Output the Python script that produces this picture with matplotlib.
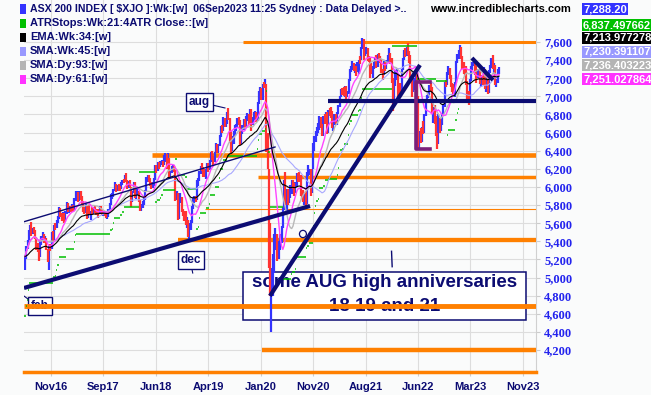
import matplotlib
matplotlib.use('Agg')
import matplotlib.pyplot as plt
from matplotlib.patches import Rectangle, Ellipse
import numpy as np
import pandas as pd

# ---------------- data (weekly, Jul 2016 .. Sep 2023) ----------------
prev_close0 = 5114
closes = [
 # 2016
 5233,5337,5400,5500,5562, 5497,5531,5525,5441, 5310,5298,5237,5385,5436, 5467,5407,5431,5317,
 5184,5334,5326,5487, 5424,5569,5561,5620,5665,
 # 2017
 5761,5688,5653,5696, 5621,5716,5814,5739, 5765,5748,5787,5738,5864, 5934,5942,5856,5924,
 5876,5838,5744,5735, 5788,5667,5775,5712,5721, 5703,5765,5722,5720, 5719,5700,5779,5734,
 5714,5720,5705,5681,5682, 5740,5810,5900,5904, 5962,6025,5958,6000, 5995,5987,6042,6069,6065,
 # 2018
 6122,6070,6005,6050, 6027,5820,5944,6041, 5895,5934,5949,5844,5759, 5788,5815,5870,5961,
 6095,6103,6087,6033, 6012,6033,6082,6226,6194, 6250,6232,6256,6282, 6241,6337,6340,6247,6319,
 6127,6153,6207,6208, 6186,5871,5925,5665, 5838,5897,5741,5705,5668, 5619,5620,5468,5579,
 # 2019
 5605,5776,5864,5870, 5864,6062,6067,6166, 6217,6205,6167,6130,6180, 6242,6195,6285,6380,
 6323,6290,6375,6456,6396, 6453,6553,6652,6618, 6752,6686,6700,6794, 6780,6563,6405,6545,6604,
 6647,6687,6730,6720, 6486,6608,6644,6732, 6669,6757,6793,6715,6846, 6685,6749,6816,6822,
 # 2020
 6733,6929,7041,7090,7017, 7134,7130,7139,6441, 6216,5539,4817,4842, 5068,5387,5487,5242,
 5245,5391,5405,5550,5755, 6037,5847,5942,5818, 5919,5955,6035,6024,5928, 6023,6124,6107,6074,
 5925,5908,5849,5904, 5815,6156,6160,6178,5927, 6190,6405,6539,6601, 6635,6642,6756,6664,
 # 2021
 6587,6758,6716,6800,6607, 6841,6804,6794,6673, 6710,6767,6708,6824, 6885,6995,7063,7060,7025,
 7096,7014,7030,7180, 7295,7312,7369,7308, 7308,7272,7348,7393,7392, 7523,7628,7460,7488,
 7522,7406,7403,7342, 7276,7320,7362,7415,7324, 7457,7443,7396,7279, 7241,7354,7305,7387,7444,
 # 2022
 7453,7393,7173,6988, 7120,7217,7221,7049, 7111,7064,7295,7406, 7493,7478,7523,7473,7435,
 7206,7075,7146,7183, 7238,7021,6475,6578, 6547,6640,6605,6791,6945, 6995,7032,7115,7104,
 6829,6855,6739,6574,6474, 6762,6642,6677,6786, 6893,7148,7136,7259, 7301,7213,7152,7107,7039,
 # 2023
 7152,7386,7452,7494, 7558,7433,7347,7307, 7283,7144,6995,6956,7178, 7325,7362,7366,7309,
 7225,7256,7279,7154, 7217,7143,7292,7099,7203, 7043,7283,7325,7403, 7325,7340,7148,7158,
 7279,7288,
]
highs = [
 5250,5350,5420,5520,5575, 5611,5550,5560,5530, 5450,5380,5300,5400,5460, 5500,5480,5460,5440,
 5320,5350,5370,5500, 5510,5580,5600,5640,5680,
 5780,5770,5710,5720, 5710,5730,5830,5820, 5790,5790,5810,5800,5880, 5950,5960,5940,5950,
 5956,5900,5850,5780, 5810,5790,5790,5800,5740, 5780,5775,5790,5760, 5750,5760,5790,5790,
 5760,5740,5740,5720,5700, 5760,5820,5920,5930, 5980,6050,6030,6020, 6030,6010,6060,6080,6090,
 6130,6150,6080,6070, 6080,6000,5960,6050, 6060,5960,5980,5960,5860, 5810,5840,5890,5970,
 6110,6130,6130,6100, 6050,6060,6100,6240,6240, 6270,6270,6290,6300, 6290,6350,6370,6360,6374,
 6320,6180,6230,6240, 6230,6190,5960,5930, 5860,5930,5890,5760,5730, 5740,5670,5640,5600,
 5640,5790,5880,5900, 5900,6080,6100,6180, 6230,6260,6220,6200,6200, 6260,6260,6300,6390,
 6400,6340,6390,6480,6470, 6470,6570,6670,6680, 6770,6760,6730,6830, 6875,6760,6620,6560,6620,
 6680,6700,6760,6770, 6740,6620,6680,6750, 6750,6780,6820,6800,6860, 6860,6770,6830,6840,
 6830,6940,7060,7100,7090, 7140,7160,7197,7140, 6600,6200,5600,5100, 5260,5480,5550,5480,
 5400,5400,5480,5570,5780, 6080,6170,5980,5980, 5960,6020,6080,6080,6040, 6060,6150,6150,6160,
 6130,5970,5970,5920, 5950,6170,6240,6200,6200, 6200,6480,6560,6620, 6660,6710,6780,6770,
 6700,6780,6800,6830,6830, 6850,6870,6880,6840, 6800,6800,6800,6830, 6900,7000,7080,7090,7100,
 7110,7110,7060,7190, 7300,7340,7390,7370, 7360,7340,7380,7400,7450, 7540,7640,7630,7520,
 7540,7530,7450,7420, 7370,7340,7380,7430,7460, 7470,7480,7450,7410, 7300,7390,7380,7400,7460,
 7530,7480,7420,7200, 7140,7290,7300,7250, 7130,7150,7300,7420, 7510,7530,7540,7593,7500,
 7460,7230,7170,7200, 7280,7260,7000,6620, 6650,6660,6730,6800,6950, 7010,7060,7130,7150,
 7100,6880,6900,6780,6600, 6800,6760,6720,6820, 6920,7160,7180,7270, 7330,7310,7240,7150,7140,
 7160,7390,7470,7510, 7570,7540,7450,7380, 7330,7330,7170,7060,7190, 7340,7380,7400,7380,
 7330,7300,7300,7290, 7240,7240,7320,7300,7220, 7230,7290,7350,7420, 7460,7370,7350,7190,
 7300,7320,
]
lows = [
 5085,5210,5320,5390,5470, 5460,5480,5490,5430, 5300,5285,5180,5230,5360, 5420,5380,5390,5300,
 5170,5080,5290,5320, 5400,5420,5520,5550,5600,
 5650,5670,5620,5640, 5600,5610,5700,5720, 5710,5720,5730,5720,5730, 5850,5900,5830,5850,
 5860,5810,5720,5700, 5710,5650,5660,5700,5640, 5690,5700,5710,5690, 5700,5660,5700,5720,
 5690,5680,5680,5660,5650, 5670,5730,5800,5870, 5890,5950,5940,5950, 5960,5950,5980,6020,6040,
 6050,6050,5980,5990, 6000,5780,5830,5930, 5880,5870,5910,5830,5740, 5740,5770,5800,5860,
 5960,6060,6060,6010, 5980,5990,6010,6080,6150, 6180,6200,6220,6240, 6220,6240,6280,6200,6240,
 6110,6100,6150,6180, 6160,5840,5860,5640, 5650,5820,5720,5680,5620, 5580,5550,5450,5410,
 5530,5600,5760,5820, 5830,5860,6010,6070, 6140,6180,6110,6110,6090, 6180,6170,6190,6280,
 6300,6240,6280,6370,6380, 6380,6450,6550,6600, 6620,6660,6660,6690, 6740,6480,6370,6400,6470,
 6560,6620,6660,6680, 6460,6470,6590,6630, 6640,6660,6730,6680,6710, 6620,6680,6740,6790,
 6720,6730,6920,7020,6960, 6960,7090,7100,6390, 6200,5100,4800,4402, 4800,5050,5300,5180,
 5230,5200,5300,5380,5550, 5750,5800,5740,5800, 5820,5880,5920,5980,5900, 5930,6000,6050,6060,
 5900,5870,5830,5800, 5790,5810,6120,6130,5900, 5930,6200,6400,6500, 6560,6600,6630,6650,
 6560,6560,6690,6700,6590, 6600,6780,6760,6650, 6620,6680,6690,6680, 6800,6880,6990,7020,7000,
 6990,6950,6990,7030, 7170,7270,7290,7280, 7260,7220,7270,7250,7360, 7400,7520,7400,7440,
 7470,7390,7380,7200, 7250,7200,7300,7350,7310, 7320,7390,7370,7260, 7180,7240,7280,7300,7380,
 7380,7360,7150,6840, 6960,7110,7180,6980, 6990,6990,7040,7290, 7400,7430,7450,7460,7370,
 7180,6990,7050,7070, 7150,7000,6433,6430, 6480,6500,6590,6600,6780, 6930,6980,7020,7050,
 6800,6710,6700,6560,6420, 6470,6600,6620,6680, 6780,6880,7100,7130, 7240,7190,7100,7050,7030,
 6990,7150,7370,7410, 7470,7410,7300,7250, 7230,7130,6930,6900,6950, 7170,7290,7330,7240,
 7150,7200,7200,7140, 7100,7120,7130,7080,7050, 7030,7040,7260,7310, 7300,7250,7130,7100,
 7150,7250,
]

tick_weeks = [20.6, 62.1, 103.5, 145.0, 186.5, 227.9, 269.4, 310.8, 352.2, 393.7]
tick_labels = ['Nov16', 'Sep17', 'Jun18', 'Apr19', 'Jan20', 'Nov20', 'Aug21', 'Jun22', 'Mar23', 'Nov23']
y_ticks = list(range(4200, 7601, 200))

legend_labels = ['ASX 200 INDEX [ \\$XJO ]:Wk:[w]  06Sep2023 11:25 Sydney : Data Delayed >..',
                 'ATRStops:Wk:21:4ATR Close::[w]', 'EMA:Wk:34:[w]', 'SMA:Wk:45:[w]',
                 'SMA:Dy:93:[w]', 'SMA:Dy:61:[w]']
value_labels = ['7,288.20', '6,837.497662', '7,213.977278', '7,230.391107', '7,236.403223', '7,251.027864']

# hand-drawn annotations (week index, index level)
orange_levels = [7600, 6353, 6110, 5757, 5415, 4686, 4200]
orange_starts = [172.5, 100.5, 184.3, 142.4, 121.0, -0.8, 187.5]
navy_low_x, navy_low_y = [-0.8, 225.5], [4885, 5790]
navy_up_x, navy_up_y = [-1.6, 197.8], [5613, 6441]
navy_steep_x, navy_steep_y = [193.8, 312.5], [4797, 7346]
navy_level, navy_level_start = 6950, 239.7
navy_short_x, navy_short_y = [353.6, 370.3], [7423, 7181]
bracket_x, bracket_y = [320.4, 309.3, 309.3, 320.4], [7158, 7158, 6419, 6419]
circle_xy = (219.9, 5481)

# ---------------- derived indicators ----------------
C = pd.Series(closes, dtype=float)
H = pd.Series(highs, dtype=float)
L = pd.Series(lows, dtype=float)
PC = C.shift(1).fillna(prev_close0)
ema34 = C.ewm(span=34, adjust=False).mean()
sma45 = C.rolling(45, min_periods=1).mean()
sma93d = C.rolling(19, min_periods=1).mean()
sma61d = C.rolling(12, min_periods=1).mean()
tr = pd.concat([H - L, (H - PC).abs(), (L - PC).abs()], axis=1).max(axis=1)
atr = tr.ewm(alpha=1 / 21, adjust=False).mean()
stops = []
trend = 1
stop = C[0] - 4 * atr[0]
for i in range(len(C)):
    if trend == 1:
        if C[i] < stop:
            trend = -1
            stop = C[i] + 4 * atr[i]
        else:
            stop = max(stop, C[i] - 4 * atr[i])
    else:
        if C[i] > stop:
            trend = 1
            stop = C[i] - 4 * atr[i]
        else:
            stop = min(stop, C[i] + 4 * atr[i])
    stops.append(stop)
stops = np.array(stops)

# ---------------- drawing ----------------
NAVY = '#0c0c72'
ORANGE = '#ff8000'
BG = '#fafbfb'
fig = plt.figure(figsize=(6.51, 3.95), dpi=100, facecolor=BG)
ax = fig.add_axes([24 / 651, 23 / 395, 512 / 651, 372 / 395], facecolor=BG)
ax.set_xlim(-0.8, 404.3)
ax.set_ylim(3957.6, 8063.6)

ax.grid(True, color='#dddddd', lw=0.8, zorder=0)
ax.set_axisbelow(True)
for s in ['top', 'left']:
    ax.spines[s].set_visible(False)
ax.spines['right'].set_color('#d0d0d0')
ax.spines['bottom'].set_color(ORANGE)
ax.spines['bottom'].set_linewidth(2.5)

ax.yaxis.tick_right()
ax.set_yticks(y_ticks)
ax.set_yticklabels([f'{v:,}' for v in y_ticks], fontfamily='Liberation Serif',
                   fontweight='bold', fontsize=9, color='#2323ee')
ax.tick_params(axis='y', length=3, color='#cccccc', pad=3)
ax.set_xticks(tick_weeks)
ax.set_xticklabels(tick_labels, fontfamily='Liberation Sans', fontweight='bold',
                   fontsize=8, color=NAVY)
ax.tick_params(axis='x', length=3, color='#cccccc', pad=4)

# big annotation box (under lines and bars)
bx0, bx1 = 172.5, 396.4
by0, by1 = 4532, 5061
ax.add_patch(Rectangle((bx0, by0), bx1 - bx0, by1 - by0, facecolor='white',
                       edgecolor=NAVY, lw=1.1, zorder=2))
ax.text((bx0 + bx1) / 2, 4945, 'some AUG high anniversaries', ha='center', va='center',
        fontsize=13.5, fontweight='bold', color=NAVY, family='Liberation Sans', zorder=2.1)
ax.text((bx0 + bx1) / 2, 4686, '18 19 and 21', ha='center', va='center',
        fontsize=13.5, fontweight='bold', color=NAVY, family='Liberation Sans', zorder=2.1)
ax.plot([290.5, 290.0], [5120, 5290], color=NAVY, lw=1, zorder=2.2)

# small label boxes
def tag(x, y, s, z=8):
    ax.text(x, y, s, ha='center', va='center', fontsize=8.5, fontweight='bold', color=NAVY,
            family='Liberation Sans', zorder=z,
            bbox=dict(boxstyle='square,pad=0.25', facecolor='white', edgecolor=NAVY, lw=1))

tag(11.9, 4686, 'feb', z=2.5)
ax.plot([-0.8, 2.4], [4796, 4763], color=NAVY, lw=0.8, zorder=2.5)

# orange levels
ow = [2.2, 3.3, 2.5, 0.8, 3.1, 3.5, 3.2]
for lev, st, w in zip(orange_levels, orange_starts, ow):
    ax.plot([st, 404.3], [lev, lev], color=ORANGE, lw=w, solid_capstyle='butt', zorder=3)

# price bars
up = C.values >= PC.values
xs = np.arange(len(C))
ax.vlines(xs[up], L.values[up], H.values[up], color='#3333ff', lw=1.6, zorder=4)
ax.vlines(xs[~up], L.values[~up], H.values[~up], color='#ff3333', lw=1.6, zorder=4)

# ATR stops
ax.hlines(stops, xs - 0.5, xs + 0.5, color='#00c000', lw=1.1, zorder=4.5)

# moving averages
ax.plot(xs, sma45, color='#a8a8ff', lw=0.8, zorder=5)
ax.plot(xs, sma93d, color='#b8b8b8', lw=1.0, zorder=5)
ax.plot(xs, sma61d, color='#ff44ff', lw=1.0, zorder=5)
ax.plot(xs, ema34, color='black', lw=0.8, zorder=5.2)

# navy trendlines
ax.plot(navy_low_x, navy_low_y, color=NAVY, lw=3.0, solid_capstyle='butt', zorder=6)
ax.plot(navy_up_x, navy_up_y, color=NAVY, lw=1.0, zorder=6)
ax.plot(navy_steep_x, navy_steep_y, color=NAVY, lw=3.0, solid_capstyle='butt', zorder=6)
ax.plot([navy_level_start, 404.3], [navy_level, navy_level], color=NAVY, lw=3.0,
        solid_capstyle='butt', zorder=6)
ax.plot(navy_short_x, navy_short_y, color=NAVY, lw=3.0, solid_capstyle='butt', zorder=6)
ax.plot(bracket_x, bracket_y, color='#7a1f7a', lw=2.6, zorder=6)
ax.add_patch(Ellipse(circle_xy, 5.5, 80, facecolor='none', edgecolor=NAVY, lw=0.9, zorder=6))

# aug / dec tags
tag(137.7, 6938, 'aug')
ax.plot([147.9, 158.2], [6905, 6872], color=NAVY, lw=0.8, zorder=7)
tag(131.3, 5194, 'dec')
ax.plot([131.9, 132.7], [5105, 5050], color=NAVY, lw=0.8, zorder=7)

# legend (top-left)
sw_colors = ['#3333ff', '#00c000', '#000000', '#9999ff', '#b4b4b4', '#ff33ff']
ys = [9, 23.5, 37.5, 51.5, 65, 79]
fsz = [7.6, 8, 8, 8, 8, 8]
for lab, col, yy, fs in zip(legend_labels, sw_colors, ys, fsz):
    fig.patches.append(Rectangle((20 / 651, 1 - (yy + 4.5) / 395), 6 / 651, 9 / 395,
                                 transform=fig.transFigure, facecolor=col, edgecolor='none',
                                 zorder=10))
    fig.text(30 / 651, 1 - yy / 395, lab, ha='left', va='center', fontsize=fs,
             fontweight='bold', color=NAVY, family='Liberation Sans', zorder=10)

fig.text(430 / 651, 1 - 9 / 395, 'www.incrediblecharts.com', ha='left', va='center',
         fontsize=8, fontweight='bold', color='black', family='Liberation Sans', zorder=10)

# last-value boxes (top-right)
vys = [9, 25, 38, 52, 65, 79]
for lab, col, yy in zip(value_labels, sw_colors, vys):
    fig.text(583 / 651, 1 - yy / 395, lab, ha='left', va='center', fontsize=8,
             fontweight='bold', color='white', family='Liberation Sans', zorder=10,
             bbox=dict(boxstyle='square,pad=0.12', facecolor=col, edgecolor='none'))

fig.savefig('out.png', dpi=100, facecolor=BG)
